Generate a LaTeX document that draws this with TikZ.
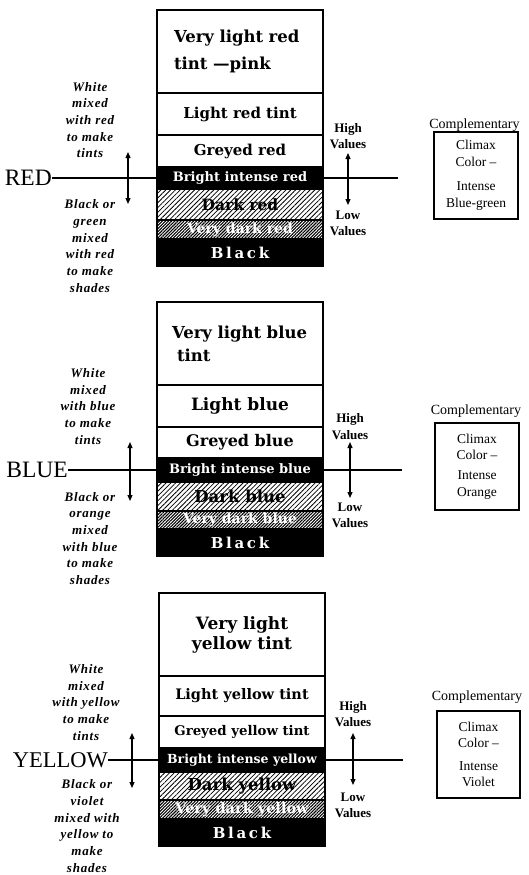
\documentclass[tikz,border=0pt]{standalone}
\usepackage{fontspec}
\setmainfont{Liberation Serif}
\newfontfamily\rowfont{DejaVu Serif}
\newfontfamily\spacedfont[LetterSpace=18]{DejaVu Serif}
\newfontfamily\sidefont[LetterSpace=6]{Liberation Serif}
\usetikzlibrary{patterns.meta,arrows.meta}
\newcommand\setfs[2]{\fontsize{#1}{#2}\selectfont}
\tikzset{
  lbl/.style={font=\setfs{23.5}{24}, inner sep=0pt, anchor=east},
  row/.style={draw, line width=1.3pt, minimum width=166pt, inner sep=0pt, align=center, font=\rowfont\bfseries\setfs{15}{18}},
  brightrow/.style={row, fill=black, text=white},
  darkrow/.style={row, pattern={Lines[angle=45,distance=3.4pt,line width=0.8pt]}},
  vdarkrow/.style={row, pattern={Lines[angle=45,distance=2.2pt,line width=1.1pt]}, text=white},
  blackrow/.style={row, fill=black, text=white, font=\spacedfont\bfseries\setfs{15}{16}},
  frame/.style={line width=1.6pt},
  conn/.style={line width=1.2pt},
  dbl/.style={line width=1.2pt, {Triangle[length=6pt,width=5pt]}-{Triangle[length=6pt,width=5pt]}},
  side/.style={font=\sidefont\bfseries\itshape\setfs{13}{16.7}, align=center, inner sep=0pt},
  hv/.style={font=\bfseries\setfs{13}{16.5}, align=center, inner sep=0pt},
  comp/.style={font=\setfs{14}{15}, inner sep=0pt},
  cbox/.style={draw, line width=1.4pt, minimum width=84pt, minimum height=87pt, align=center, inner sep=0pt, font=\setfs{13.5}{16.5}},
}
\begin{document}
\begin{tikzpicture}[x=1pt,y=-1pt]
\useasboundingbox[fill=white] (0,0) rectangle (528,875);

% ================= RED =================
\node[row, minimum height=83pt, align=left, text width=132pt, font=\rowfont\bfseries\setfs{16.5}{27}] (r1) at (240,51.5) {Very light red\\tint —pink};
\node[row, minimum height=42pt, font=\rowfont\bfseries\setfs{15}{18}] (r2) at (240,114) {Light red tint};
\node[row, minimum height=32pt, font=\rowfont\bfseries\setfs{15}{18}] (r3) at (240,151) {Greyed red};
\node[brightrow, minimum height=22pt, font=\rowfont\bfseries\setfs{13}{15}] (r4) at (240,178) {Bright intense red};
\node[darkrow, minimum height=31pt, font=\rowfont\bfseries\setfs{15.5}{18}] (r5) at (240,204.5) {Dark red};
\node[vdarkrow, minimum height=19pt, font=\rowfont\bfseries\setfs{14}{16}] (r6) at (240,229.5) {Very dark red};
\node[blackrow, minimum height=27pt] (r7) at (240,252.5) {Black};
\draw[frame] (r1.north west) rectangle (r7.south east);

\node[lbl] (rl) at (52,178) {RED};
\coordinate (re) at (398,178);
\draw[conn] (rl.east) -- (r4.west);
\draw[conn] (r4.east) -- (re);

\coordinate (ra1) at (128,152);
\coordinate (ra2) at (128,204);
\draw[dbl] (ra1) -- (ra2);
\node[side] (rt) at (90,120) {White\\mixed\\with red\\to make\\tints};
\node[side] (rs) at (90,246) {Black or\\green\\mixed\\with red\\to make\\shades};

\node[hv] (rh) at (348,136) {High\\Values};
\coordinate (rb1) at (348,153);
\coordinate (rb2) at (348,205);
\draw[dbl] (rb1) -- (rb2);
\node[hv] (rlo) at (348,223.5) {Low\\Values};

\node[comp] (rc) at (474.5,125) {Complementary};
\node[cbox] (rcb) at (476,175.5) {Climax\\Color –\\[8pt]Intense\\Blue-green};

% ================= BLUE =================
\node[row, minimum height=83pt, align=left, text width=136pt, font=\rowfont\bfseries\setfs{16.5}{23}] (b1) at (240,343.5) {Very light blue\\\hspace*{5pt}tint};
\node[row, minimum height=42pt, font=\rowfont\bfseries\setfs{17}{18}] (b2) at (240,406) {Light blue};
\node[row, minimum height=31pt, font=\rowfont\bfseries\setfs{16}{18}] (b3) at (240,442.5) {Greyed blue};
\node[brightrow, minimum height=24pt, font=\rowfont\bfseries\setfs{13}{15}] (b4) at (240,470) {Bright intense blue};
\node[darkrow, minimum height=29pt, font=\rowfont\bfseries\setfs{16.5}{18}] (b5) at (240,496.5) {Dark blue};
\node[vdarkrow, minimum height=18pt, font=\rowfont\bfseries\setfs{14}{16}] (b6) at (240,520) {Very dark blue};
\node[blackrow, minimum height=27pt] (b7) at (240,542.5) {Black};
\draw[frame] (b1.north west) rectangle (b7.south east);

\node[lbl] (bl) at (68,470) {BLUE};
\coordinate (be) at (402,470);
\draw[conn] (bl.east) -- (b4.west);
\draw[conn] (b4.east) -- (be);

\coordinate (ba1) at (130,442);
\coordinate (ba2) at (130,501);
\draw[dbl] (ba1) -- (ba2);
\node[side] (bt) at (88,406.5) {White\\mixed\\with blue\\to make\\tints};
\node[side] (bs) at (90,538.5) {Black or\\orange\\mixed\\with blue\\to make\\shades};

\node[hv] (bh) at (350,426.5) {High\\Values};
\coordinate (bb1) at (350,442);
\coordinate (bb2) at (350,498);
\draw[dbl] (bb1) -- (bb2);
\node[hv] (blo) at (350,515.5) {Low\\Values};

\node[comp] (bc) at (476,411) {Complementary};
\node[cbox] (bcb) at (477,466.5) {Climax\\Color –\\[3.5pt]Intense\\Orange};

% ================= YELLOW =================
\node[row, minimum height=83pt, font=\rowfont\bfseries\setfs{17}{20}] (y1) at (242,634.5) {Very light\\yellow tint};
\node[row, minimum height=40pt, font=\rowfont\bfseries\setfs{14.5}{18}] (y2) at (242,696) {Light yellow tint};
\node[row, minimum height=32pt, font=\rowfont\bfseries\setfs{13.3}{16}] (y3) at (242,732) {Greyed yellow tint};
\node[brightrow, minimum height=24pt, font=\rowfont\bfseries\setfs{12.5}{15}] (y4) at (242,760) {Bright intense yellow};
\node[darkrow, minimum height=28pt, font=\rowfont\bfseries\setfs{16.5}{18}] (y5) at (242,786) {Dark yellow};
\node[vdarkrow, minimum height=19pt, font=\rowfont\bfseries\setfs{14.5}{16}] (y6) at (242,809.5) {Very dark yellow};
\node[blackrow, minimum height=27pt] (y7) at (242,832.5) {Black};
\draw[frame] (y1.north west) rectangle (y7.south east);

\node[lbl, font=\setfs{22.5}{24}] (yl) at (108,760) {YELLOW};
\coordinate (ye) at (403,760);
\draw[conn] (yl.east) -- (y4.west);
\draw[conn] (y4.east) -- (ye);

\coordinate (ya1) at (132,733);
\coordinate (ya2) at (132,788);
\draw[dbl] (ya1) -- (ya2);
\node[side] (yt) at (86,702.5) {White\\mixed\\with yellow\\to make\\tints};
\node[side] (ys) at (87,826) {Black or\\violet\\mixed with\\yellow to\\make\\shades};

\node[hv] (yh) at (353,714) {High\\Values};
\coordinate (yb1) at (353,733);
\coordinate (yb2) at (353,785);
\draw[dbl] (yb1) -- (yb2);
\node[hv] (ylo) at (353,805.5) {Low\\Values};

\node[comp] (yc) at (477,697) {Complementary};
\node[cbox, minimum width=83pt] (ycb) at (478.5,754.5) {Climax\\Color –\\[6pt]Intense\\Violet};
\end{tikzpicture}
\end{document}
